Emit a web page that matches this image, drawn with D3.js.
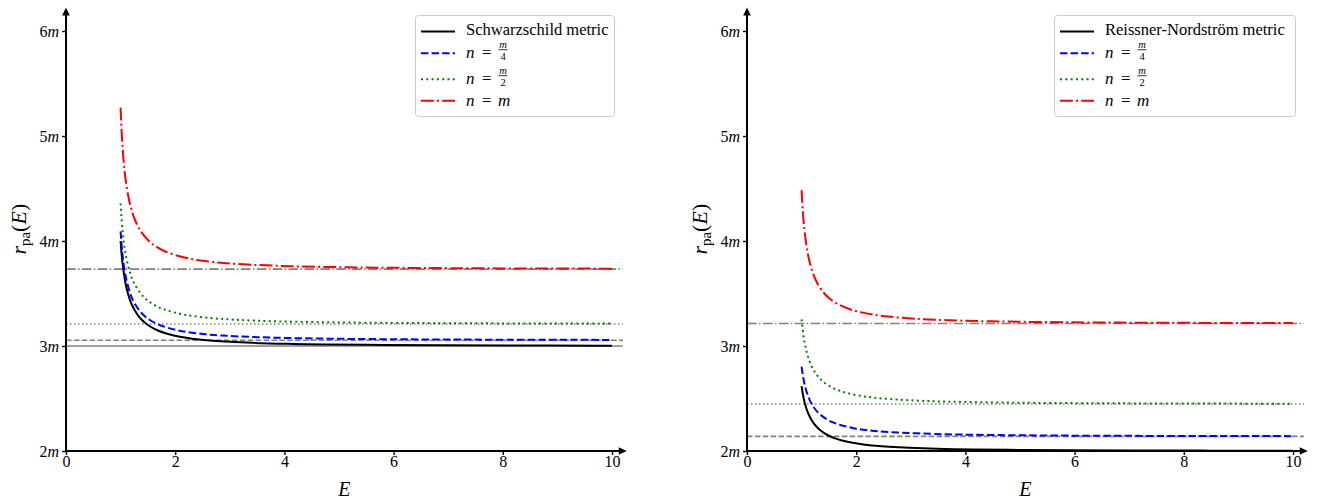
<!DOCTYPE html>
<html>
<head>
<meta charset="utf-8">
<script src="https://cdn.jsdelivr.net/npm/d3@7/dist/d3.min.js"></script>
<style>
  body { margin: 0; background: #fff; }
  svg { display: block; }
  text { font-family: "Liberation Serif", "DejaVu Serif", serif; fill: #000; }
</style>
</head>
<body>
<svg id="chart" width="1320" height="499"></svg>
<script>
// ---------- tick values ----------
const xTicks = [0, 2, 4, 6, 8, 10];
const yTicks = [2, 3, 4, 5, 6];

// ---------- Schwarzschild family (left panel) ----------
const schwE = [1, 1.0324, 1.0887, 1.1339, 1.2005, 1.3066, 1.3868, 1.5, 1.673, 1.9757, 2.3082, 2.6888, 3.4163, 4.1503, 4.773, 5.8215, 6.941, 8.199, 9.787, 10];
const schwR = [4.0, 3.8, 3.6, 3.5, 3.4, 3.3, 3.25, 3.2, 3.15, 3.1, 3.07, 3.05, 3.03, 3.02, 3.015, 3.01, 3.007, 3.005, 3.0035, 3.0033];

const schwQuarterE = [1, 1.029, 1.0796, 1.176, 1.2626, 1.4094, 1.5289, 1.713, 2.0405, 2.4103, 2.8497, 3.7534, 4.7868, 5.812, 6.897, 8.06, 9.5, 10];
const schwQuarterR = [4.092, 3.9, 3.7, 3.5, 3.4, 3.3, 3.25, 3.2, 3.15, 3.12, 3.1, 3.08, 3.07, 3.065, 3.062, 3.06, 3.0585, 3.0581];

const schwHalfE = [1, 1.0355, 1.0836, 1.1713, 1.2464, 1.3663, 1.4575, 1.5873, 1.7891, 2.1541, 2.5787, 3.1051, 3.869, 4.918, 5.954, 7.02, 8.54, 9.78, 10];
const schwHalfR = [4.357, 4.1, 3.9, 3.7, 3.6, 3.5, 3.45, 3.4, 3.35, 3.3, 3.27, 3.25, 3.235, 3.225, 3.22, 3.217, 3.2145, 3.2133, 3.2131];

const schwFullE = [1, 1.0232, 1.0492, 1.0882, 1.1512, 1.1986, 1.2645, 1.3616, 1.5185, 1.6403, 1.8186, 2.1098, 2.401, 2.6993, 3.1749, 4.114, 5.109, 5.96, 7.15, 8.74, 10];
const schwFullR = [5.27, 5.0, 4.8, 4.6, 4.4, 4.3, 4.2, 4.1, 4.0, 3.95, 3.9, 3.85, 3.82, 3.8, 3.78, 3.76, 3.75, 3.745, 3.741, 3.738, 3.7366];

const schwLimits = [3.0, 3.0547, 3.2094, 3.7321];

// ---------- Reissner-Nordström family (right panel) ----------
const rnE = [1, 1.0204, 1.0392, 1.0624, 1.0913, 1.1282, 1.1766, 1.2423, 1.3361, 1.481, 1.614, 1.7373, 1.9078, 2.1628, 2.3472, 2.5995, 2.973, 3.6061, 4.1436, 5.05, 6.018, 7.106, 8.481, 10];
const rnR = [2.618, 2.55, 2.5, 2.45, 2.4, 2.35, 2.3, 2.25, 2.2, 2.15, 2.12, 2.1, 2.08, 2.06, 2.05, 2.04, 2.03, 2.02, 2.015, 2.01, 2.007, 2.005, 2.0035, 2.0025];

const rnQuarterE = [1, 1.0296, 1.0713, 1.1359, 1.1827, 1.2456, 1.3341, 1.4679, 1.5873, 1.6952, 1.9328, 2.1872, 2.619, 3.589, 4.09, 4.91, 5.74, 6.63, 8.07, 9.01, 10];
const rnQuarterR = [2.803, 2.7, 2.6, 2.5, 2.45, 2.4, 2.35, 2.3, 2.27, 2.25, 2.22, 2.2, 2.18, 2.16, 2.155, 2.15, 2.147, 2.145, 2.143, 2.1422, 2.1416];

const rnHalfE = [1, 1.0343, 1.0678, 1.1163, 1.1908, 1.2448, 1.3174, 1.4201, 1.5768, 1.719, 1.8497, 2.1464, 2.4807, 3.1, 3.695, 4.918, 6.33, 7.76, 9.28, 10];
const rnHalfR = [3.253, 3.1, 3.0, 2.9, 2.8, 2.75, 2.7, 2.65, 2.6, 2.57, 2.55, 2.52, 2.5, 2.48, 2.47, 2.46, 2.455, 2.4525, 2.451, 2.4505];

const rnFullE = [1, 1.0201, 1.053, 1.1065, 1.147, 1.2033, 1.2857, 1.4172, 1.5174, 1.6607, 1.8849, 2.0961, 2.2984, 2.5911, 3.0661, 3.704, 4.465, 5.449, 6.8, 8.36, 10];
const rnFullR = [4.485, 4.3, 4.1, 3.9, 3.8, 3.7, 3.6, 3.5, 3.45, 3.4, 3.35, 3.32, 3.3, 3.28, 3.26, 3.245, 3.235, 3.228, 3.223, 3.22, 3.2184];

const rnLimits = [2.0, 2.139, 2.4476, 3.2143];

// ---------- styles ----------
const styles = [
  { color: "#000000", dash: null,                 grayDash: null },
  { color: "#0000ff", dash: "7.4,3.2",            grayDash: "5.5,2.4" },
  { color: "#008000", dash: "2,3.3",              grayDash: "1.5,2.5" },
  { color: "#ff0000", dash: "12.8,3.2,2,3.2",     grayDash: "9.6,2.4,1.5,2.4" }
];
const legendFrac = [null, "4", "2", ""];

const panels = [
  {
    left: 66, title: "Schwarzschild metric", boxLeft: 415, boxRight: 614,
    curves: [[schwE, schwR], [schwQuarterE, schwQuarterR], [schwHalfE, schwHalfR], [schwFullE, schwFullR]],
    limits: schwLimits
  },
  {
    left: 747, title: "Reissner-Nordström metric", boxLeft: 1054, boxRight: 1295,
    curves: [[rnE, rnR], [rnQuarterE, rnQuarterR], [rnHalfE, rnHalfR], [rnFullE, rnFullR]],
    limits: rnLimits
  }
];

const svg = d3.select("#chart");
const plotWidth = 546;   // pixels spanned by E = 0..10
const yTop = 31, yBottom = 451;

panels.forEach(p => {
  const x = d3.scaleLinear().domain([0, 10]).range([p.left, p.left + plotWidth]);
  const y = d3.scaleLinear().domain([2, 6]).range([yBottom, yTop]);
  const g = svg.append("g");

  // limiting radii (horizontal reference lines)
  p.limits.forEach((v, i) => {
    g.append("line")
      .attr("x1", x(0)).attr("x2", x(10.2))
      .attr("y1", y(v)).attr("y2", y(v))
      .attr("stroke", "#808080").attr("stroke-width", 1.7)
      .attr("stroke-dasharray", styles[i].grayDash);
  });

  // curves
  const line = d3.line()
    .x(d => x(d[0])).y(d => y(d[1]))
    .curve(d3.curveCatmullRom.alpha(0.5));
  p.curves.forEach((c, i) => {
    const pts = c[0].map((e, k) => [e, c[1][k]]);
    g.append("path")
      .attr("d", line(pts))
      .attr("fill", "none")
      .attr("stroke", styles[i].color)
      .attr("stroke-width", 2)
      .attr("stroke-dasharray", styles[i].dash);
  });

  // axes: ticks from d3, spines drawn with arrowheads
  const xAxis = g.append("g").attr("transform", `translate(0,${yBottom})`)
    .call(d3.axisBottom(x).tickValues(xTicks).tickSize(4).tickPadding(3).tickFormat(d3.format("d")));
  xAxis.select(".domain").remove();
  xAxis.selectAll(".tick line").attr("stroke", "#000").attr("stroke-width", 1.4);
  xAxis.selectAll(".tick text")
    .attr("font-size", 16).attr("font-family", "Liberation Serif, serif")
    .attr("y", 16).attr("dy", 0);

  const yAxis = g.append("g").attr("transform", `translate(${p.left},0)`)
    .call(d3.axisLeft(y).tickValues(yTicks).tickSize(4).tickPadding(4).tickFormat(() => ""));
  yAxis.select(".domain").remove();
  yAxis.selectAll(".tick line").attr("stroke", "#000").attr("stroke-width", 1.4);
  yAxis.selectAll(".tick text")
    .attr("font-size", 16).attr("font-family", "Liberation Serif, serif")
    .attr("x", -7).attr("dy", "0.32em")
    .each(function(d) {
      const t = d3.select(this);
      t.append("tspan").text(d);
      t.append("tspan").attr("font-style", "italic").text("m");
    });

  const xEnd = x(10.27), yEnd = y(6.225);
  g.append("line").attr("x1", p.left).attr("x2", xEnd - 6).attr("y1", yBottom).attr("y2", yBottom)
    .attr("stroke", "#000").attr("stroke-width", 2);
  g.append("path")
    .attr("d", `M${xEnd},${yBottom} L${xEnd - 8},${yBottom - 3.8} L${xEnd - 8},${yBottom + 3.8} Z`)
    .attr("fill", "#000");
  g.append("line").attr("x1", p.left).attr("x2", p.left).attr("y1", yBottom + 1).attr("y2", yEnd + 6)
    .attr("stroke", "#000").attr("stroke-width", 2);
  g.append("path")
    .attr("d", `M${p.left},${yEnd} L${p.left - 3.8},${yEnd + 8} L${p.left + 3.8},${yEnd + 8} Z`)
    .attr("fill", "#000");

  // axis titles
  g.append("text")
    .attr("x", (p.left + xEnd) / 2 - 2).attr("y", 496)
    .attr("text-anchor", "middle").attr("font-size", 20).attr("font-style", "italic")
    .text("E");

  const yl = g.append("text")
    .attr("transform", `translate(${p.left - 40},${(yBottom + yEnd) / 2}) rotate(-90)`)
    .attr("text-anchor", "middle").attr("font-size", 22);
  yl.append("tspan").attr("font-style", "italic").text("r");
  yl.append("tspan").attr("font-size", 15).attr("dy", 4).text("pa");
  yl.append("tspan").attr("dy", -4).text("(");
  yl.append("tspan").attr("font-style", "italic").text("E");
  yl.append("tspan").text(")");

  // legend
  const rows = [31.5, 53.3, 79.3, 100.7];
  const lg = g.append("g");
  lg.append("rect")
    .attr("x", p.boxLeft + 0.5).attr("y", 15.5)
    .attr("width", p.boxRight - p.boxLeft).attr("height", 101)
    .attr("rx", 3).attr("fill", "#fff").attr("fill-opacity", 0.8)
    .attr("stroke", "#cccccc").attr("stroke-width", 1);

  const sx0 = p.boxLeft + 6, sx1 = p.boxLeft + 40, tx = p.boxLeft + 51;
  styles.forEach((s, i) => {
    const ry = rows[i];
    lg.append("line")
      .attr("x1", sx0).attr("x2", sx1).attr("y1", ry).attr("y2", ry)
      .attr("stroke", s.color).attr("stroke-width", 2)
      .attr("stroke-dasharray", s.dash);
    if (i === 0) {
      lg.append("text").attr("x", tx).attr("y", ry + 3.5).attr("font-size", 16.5).text(p.title);
      return;
    }
    lg.append("text").attr("x", tx).attr("y", ry + 5).attr("font-size", 17)
      .attr("font-style", "italic").text("n");
    lg.append("text").attr("x", tx + 16).attr("y", ry + 5).attr("font-size", 17).text("=");
    if (legendFrac[i] === "") {
      lg.append("text").attr("x", tx + 32).attr("y", ry + 5).attr("font-size", 17)
        .attr("font-style", "italic").text("m");
    } else {
      const fx = tx + 37;
      lg.append("text").attr("x", fx).attr("y", ry - 5).attr("text-anchor", "middle")
        .attr("font-size", 10.5).attr("font-style", "italic").text("m");
      lg.append("line").attr("x1", fx - 4.5).attr("x2", fx + 4.5)
        .attr("y1", ry - 3.6).attr("y2", ry - 3.6)
        .attr("stroke", "#000").attr("stroke-width", 0.8);
      lg.append("text").attr("x", fx).attr("y", ry + 7).attr("text-anchor", "middle")
        .attr("font-size", 10.5).text(legendFrac[i]);
    }
  });
});
</script>
</body>
</html>
